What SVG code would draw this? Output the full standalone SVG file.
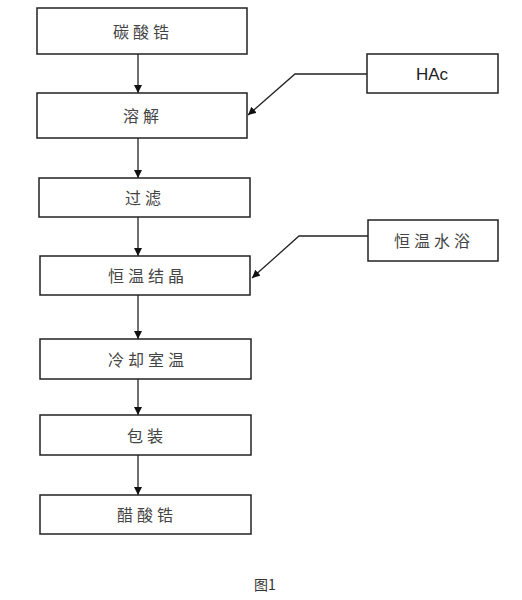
<svg xmlns="http://www.w3.org/2000/svg" width="522" height="600" viewBox="0 0 522 600">
<style>
.box{fill:#fff;stroke:#222;stroke-width:1.5}
.t{font-family:"Noto Sans CJK SC","Noto Sans CJK JP",sans-serif;font-size:16px;fill:#444;text-anchor:middle;dominant-baseline:central;letter-spacing:4px}
.e{font-family:"Liberation Sans",Arial,sans-serif;font-size:17px;fill:#222;text-anchor:middle;dominant-baseline:central}
.c{stroke:#222;stroke-width:1.3;fill:none}
</style>
<defs>
<marker id="ah" viewBox="0 0 10 10" refX="10" refY="5" markerWidth="8" markerHeight="8" markerUnits="userSpaceOnUse" orient="auto">
<path d="M0,0 L10,5 L0,10 Z" fill="#111"/>
</marker>
</defs>
<rect width="522" height="600" fill="#fff"/>
<g id="connectors">
<line class="c" x1="138" y1="54" x2="138" y2="93" marker-end="url(#ah)"/>
<line class="c" x1="138" y1="138" x2="138" y2="178" marker-end="url(#ah)"/>
<line class="c" x1="138" y1="217" x2="138" y2="256" marker-end="url(#ah)"/>
<line class="c" x1="138" y1="295" x2="138" y2="339" marker-end="url(#ah)"/>
<line class="c" x1="138" y1="379" x2="138" y2="415" marker-end="url(#ah)"/>
<line class="c" x1="138" y1="455" x2="138" y2="495" marker-end="url(#ah)"/>
<polyline class="c" points="367,74 295,74 248,115" marker-end="url(#ah)"/>
<polyline class="c" points="368,236 299,236 252,278" marker-end="url(#ah)"/>
</g>
<g id="n1"><rect class="box" x="37" y="8" width="210" height="46"/><text class="t" x="143" y="31">碳酸锆</text></g>
<g id="n2"><rect class="box" x="37" y="93" width="210" height="45"/><text class="t" x="143" y="115">溶解</text></g>
<g id="n3"><rect class="box" x="39" y="178" width="211" height="39"/><text class="t" x="145" y="197">过滤</text></g>
<g id="n4"><rect class="box" x="40" y="256" width="210" height="39"/><text class="t" x="148" y="275">恒温结晶</text></g>
<g id="n5"><rect class="box" x="40" y="339" width="211" height="40"/><text class="t" x="148" y="359">冷却室温</text></g>
<g id="n6"><rect class="box" x="40" y="415" width="211" height="40"/><text class="t" x="147" y="435">包装</text></g>
<g id="n7"><rect class="box" x="40" y="495" width="211" height="39"/><text class="t" x="147" y="514">醋酸锆</text></g>
<g id="hac"><rect class="box" x="367" y="54" width="131" height="39"/><text class="e" x="432" y="74">HAc</text></g>
<g id="bath"><rect class="box" x="368" y="220" width="130" height="41"/><text class="t" x="434" y="240">恒温水浴</text></g>
<text x="265" y="590" font-family="'Noto Sans CJK SC',sans-serif" font-size="14" fill="#333" text-anchor="middle">图1</text>
</svg>
